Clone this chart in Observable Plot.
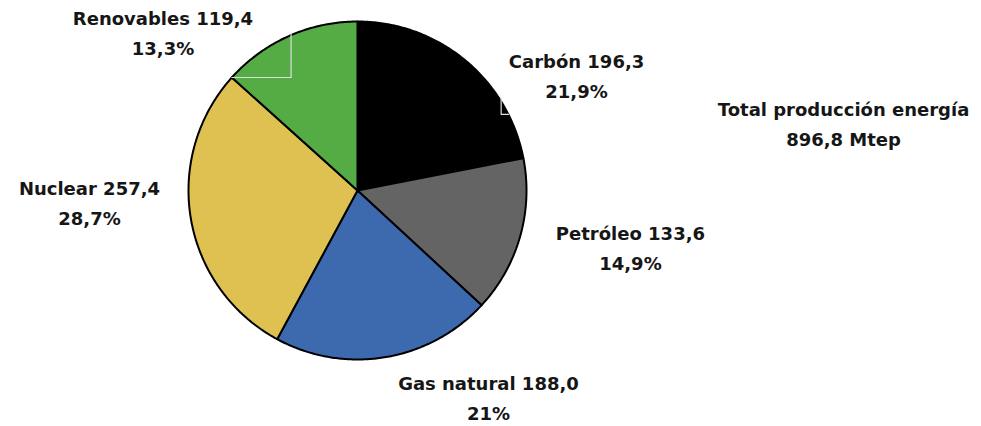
<!DOCTYPE html>
<html>
<head>
<meta charset="utf-8">
<script src="https://cdn.jsdelivr.net/npm/d3@7"></script>
<script src="https://cdn.jsdelivr.net/npm/@observablehq/plot@0.6"></script>
<style>
  html, body { margin: 0; padding: 0; background: #fff; }
  svg { display: block; }
</style>
</head>
<body>
<div id="chart"></div>
<script>
// Data
const categories = ["Carbón", "Petróleo", "Gas natural", "Nuclear", "Renovables"];
const values = [196.3, 133.6, 188.0, 257.4, 119.4];
const valueLabels = ["196,3", "133,6", "188,0", "257,4", "119,4"];
const percentLabels = ["21,9%", "14,9%", "21%", "28,7%", "13,3%"];
const totalLabel = ["Total producción energía", "896,8 Mtep"];

// Styles / layout (kept apart from data)
const colors = ["#000000", "#646464", "#3d69ae", "#dfc151", "#55ab44"];
// label anchors in pie-radius units
const labelPos = [
  [1.296, 0.693], [1.615, -0.325], [0.775, -1.213], [-1.586, -0.059], [-1.151, 0.95]
];
const totalPos = [2.876, 0.409];

const W = 981, H = 426;
const cx = 357, cy = 190, R = 169;

const arcs = d3.pie().sort(null).value(d => d)(values);

function slicePoints(a, i) {
  const pts = [{x: 0, y: 0, i}];
  const n = Math.max(2, Math.ceil((a.endAngle - a.startAngle) / 0.01));
  for (let k = 0; k <= n; k++) {
    const t = a.startAngle + (a.endAngle - a.startAngle) * k / n;
    pts.push({x: Math.sin(t), y: Math.cos(t), i});
  }
  pts.push({x: 0, y: 0, i});
  return pts;
}

const sliceMarks = arcs.map((a, i) =>
  Plot.line(slicePoints(a, i), {
    x: "x", y: "y", fill: colors[i], stroke: "#000", strokeWidth: 2,
    strokeLinejoin: "round", curve: "linear"
  })
);

// leader lines (from slice boundary/edge to label)
const renovStart = arcs[4].startAngle;
const leaderRenov = [
  {x: Math.sin(renovStart), y: Math.cos(renovStart)},
  {x: -0.393, y: Math.cos(renovStart)},
  {x: -0.393, y: 0.929}
];
const leaderCarbon = [
  {x: Math.sqrt(1 - 0.45 * 0.45), y: 0.45},
  {x: 0.85, y: 0.45},
  {x: 0.85, y: 0.55}
];

const labels = categories.map((c, i) => ({
  x: labelPos[i][0], y: labelPos[i][1],
  text: `${c} ${valueLabels[i]}\n${percentLabels[i]}`
}));
labels.push({x: totalPos[0], y: totalPos[1], text: totalLabel.join("\n")});

const chart = Plot.plot({
  width: W, height: H,
  margin: 0,
  x: {domain: [-1, 1], range: [cx - R, cx + R], axis: null},
  y: {domain: [-1, 1], range: [cy + R, cy - R], axis: null},
  style: {background: "#fff"},
  marks: [
    ...sliceMarks,
    Plot.line(leaderRenov, {x: "x", y: "y", stroke: "#dcdcdc", strokeWidth: 1.2}),
    Plot.line(leaderCarbon, {x: "x", y: "y", stroke: "#dcdcdc", strokeWidth: 1.2}),
    Plot.text(labels, {
      x: "x", y: "y", text: "text",
      fontSize: 18, fontWeight: "bold", fill: "#161616",
      fontFamily: "DejaVu Sans", lineHeight: 1.68, textAnchor: "middle"
    })
  ]
});
document.getElementById("chart").appendChild(chart);
</script>
</body>
</html>
